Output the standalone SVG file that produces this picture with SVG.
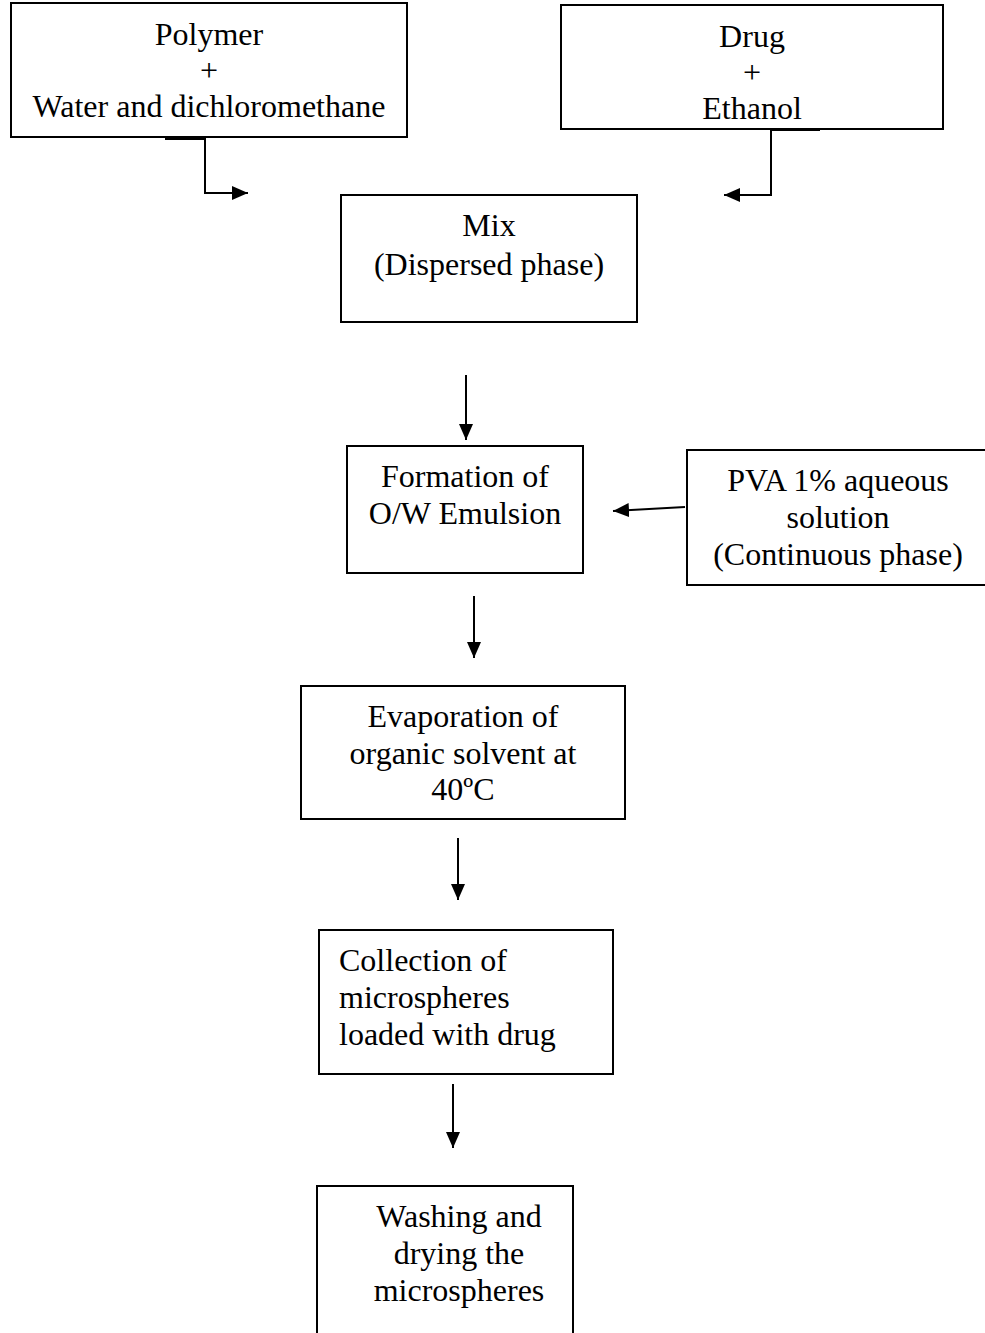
<svg xmlns="http://www.w3.org/2000/svg" width="985" height="1333" viewBox="0 0 985 1333">
  <style>
    .box { fill: #fff; stroke: #000; stroke-width: 2; }
    .lbl { font-family: "Liberation Serif", "Times New Roman", serif; font-size: 32px; fill: #000; text-anchor: middle; }
    .left { text-anchor: start; }
    .conn { fill: none; stroke: #000; stroke-width: 2; }
  </style>
  <defs>
    <marker id="head" viewBox="0 0 16 14" refX="16" refY="7" markerWidth="16" markerHeight="14" markerUnits="userSpaceOnUse" orient="auto">
      <path d="M0,0 L16,7 L0,14 z" fill="#000"/>
    </marker>
  </defs>

  <g id="polymer">
    <rect class="box" x="11" y="3" width="396" height="134"/>
    <text class="lbl" x="209" y="45">Polymer</text>
    <text class="lbl" x="209" y="81">+</text>
    <text class="lbl" x="209" y="117">Water and dichloromethane</text>
  </g>

  <g id="drug">
    <rect class="box" x="561" y="5" width="382" height="124"/>
    <text class="lbl" x="752" y="47">Drug</text>
    <text class="lbl" x="752" y="83">+</text>
    <text class="lbl" x="752" y="119">Ethanol</text>
  </g>

  <g id="mix">
    <rect class="box" x="341" y="195" width="296" height="127"/>
    <text class="lbl" x="489" y="236">Mix</text>
    <text class="lbl" x="489" y="275">(Dispersed phase)</text>
  </g>

  <g id="emulsion">
    <rect class="box" x="347" y="446" width="236" height="127"/>
    <text class="lbl" x="465" y="487">Formation of</text>
    <text class="lbl" x="465" y="524">O/W Emulsion</text>
  </g>

  <g id="pva">
    <rect class="box" x="687" y="450" width="300" height="135"/>
    <text class="lbl" x="838" y="491">PVA 1% aqueous</text>
    <text class="lbl" x="838" y="528">solution</text>
    <text class="lbl" x="838" y="565">(Continuous phase)</text>
  </g>

  <g id="evaporation">
    <rect class="box" x="301" y="686" width="324" height="133"/>
    <text class="lbl" x="463" y="727">Evaporation of</text>
    <text class="lbl" x="463" y="764">organic solvent at</text>
    <text class="lbl" x="463" y="800">40ºC</text>
  </g>

  <g id="collection">
    <rect class="box" x="319" y="930" width="294" height="144"/>
    <text class="lbl left" x="339" y="971">Collection of</text>
    <text class="lbl left" x="339" y="1008">microspheres</text>
    <text class="lbl left" x="339" y="1045">loaded with drug</text>
  </g>

  <g id="washing">
    <rect class="box" x="317" y="1186" width="256" height="160"/>
    <text class="lbl" x="459" y="1227">Washing and</text>
    <text class="lbl" x="459" y="1264">drying the</text>
    <text class="lbl" x="459" y="1301">microspheres</text>
  </g>

  <g id="connectors">
    <!-- elbow from the polymer box into the mix -->
    <path class="conn" d="M165,139 H205 V193 H248" marker-end="url(#head)"/>
    <!-- elbow from the drug box into the mix -->
    <path class="conn" d="M771,130 H820 M771,130 V195 H724" marker-end="url(#head)"/>
    <!-- continuous phase into the emulsion -->
    <path class="conn" d="M685,507 L613,511" marker-end="url(#head)"/>
    <!-- main vertical flow -->
    <path class="conn" d="M466,375 V440" marker-end="url(#head)"/>
    <path class="conn" d="M474,596 V658" marker-end="url(#head)"/>
    <path class="conn" d="M458,838 V900" marker-end="url(#head)"/>
    <path class="conn" d="M453,1084 V1148" marker-end="url(#head)"/>
  </g>
</svg>
